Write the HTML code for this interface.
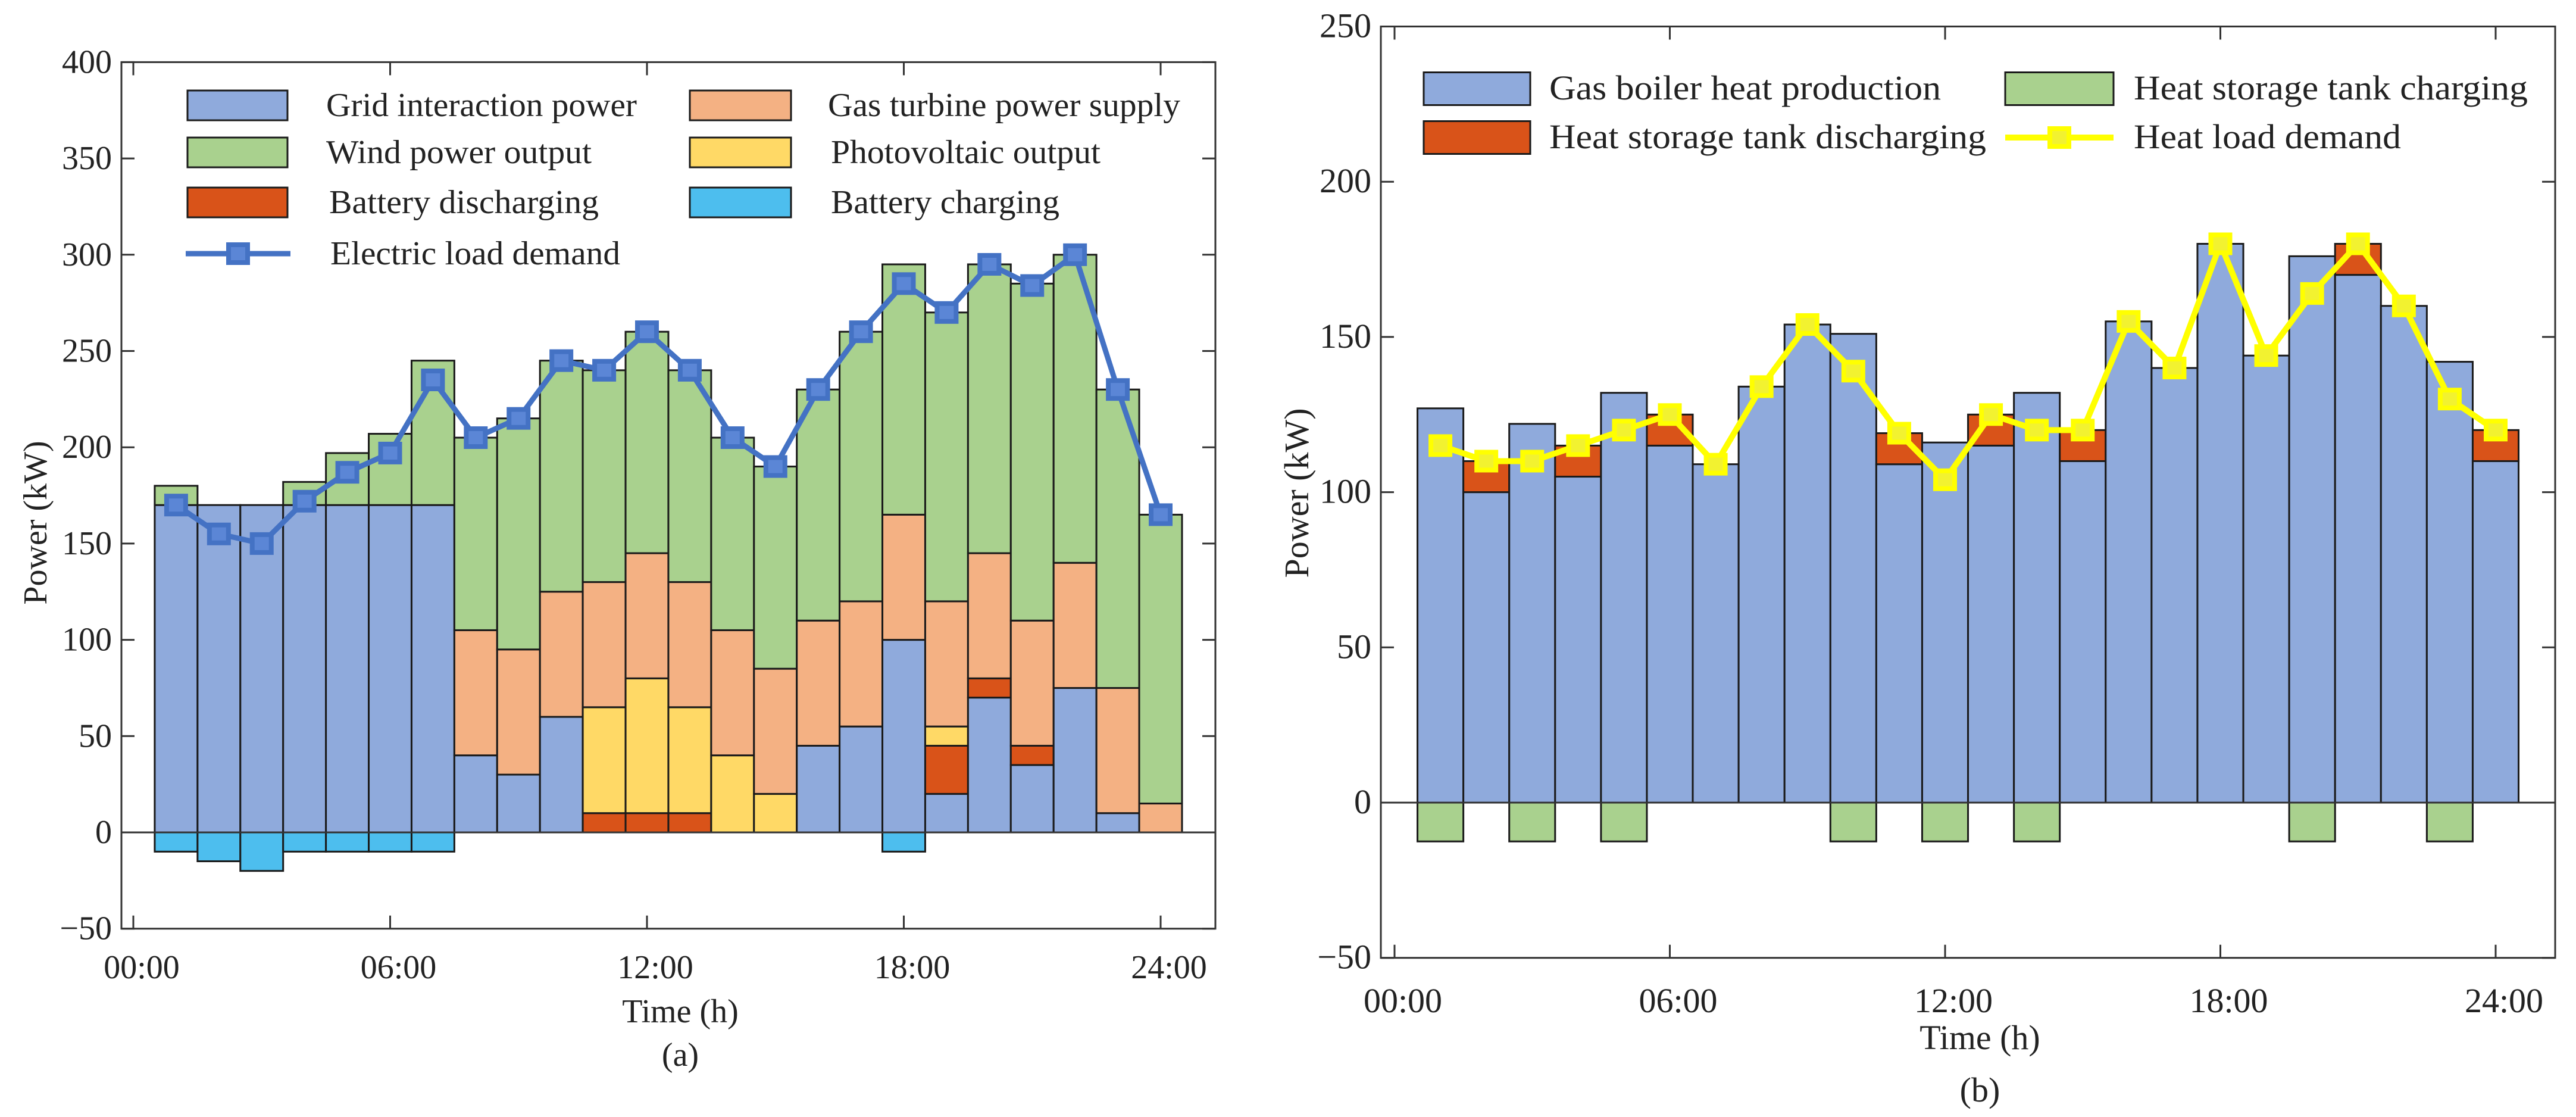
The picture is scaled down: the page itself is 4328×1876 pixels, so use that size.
<!DOCTYPE html>
<html><head><meta charset="utf-8"><style>
html,body{margin:0;padding:0;background:#fff;}
svg{display:block;}
svg text{font-family:"Liberation Serif","DejaVu Serif",serif;}
</style></head><body>
<svg id="fig" width="4328" height="1876" viewBox="0 0 4328 1876" xmlns="http://www.w3.org/2000/svg" font-family="Liberation Serif, DejaVu Serif, serif">
<rect width="4328" height="1876" fill="#fff"/>
<g id="chartA"></g>
<g id="chartB"></g>
</svg>
<script>
// ---- Chart (a) data ----
const hoursA = [1,2,3,4,5,6,7,8,9,10,11,12,13,14,15,16,17,18,19,20,21,22,23,24];
const gridPower = [170,170,170,170,170,170,170,40,30,60,0,0,0,0,0,45,55,100,20,70,35,75,10,0];
const batteryDischarge = [0,0,0,0,0,0,0,0,0,0,10,10,10,0,0,0,0,0,25,10,10,0,0,0];
const pvOutput = [0,0,0,0,0,0,0,0,0,0,55,70,55,40,20,0,0,0,10,0,0,0,0,0];
const gasTurbine = [0,0,0,0,0,0,0,65,65,65,65,65,65,65,65,65,65,65,65,65,65,65,65,15];
const windOutput = [10,0,0,12,27,37,75,100,120,120,110,115,110,100,105,120,140,130,150,150,175,160,155,150];
const batteryCharge = [-10,-15,-20,-10,-10,-10,-10,0,0,0,0,0,0,0,0,0,0,-10,0,0,0,0,0,0];
const electricLoad = [170,155,150,172,187,197,235,205,215,245,240,260,240,205,190,230,260,285,270,295,284,300,230,165];
const yTicksA = [-50,0,50,100,150,200,250,300,350,400];
const xTickHours = [0,6,12,18,24];
const xTickLabels = ["00:00","06:00","12:00","18:00","24:00"];
// ---- Chart (b) data ----
const boilerHeat = [127,100,122,105,132,115,109,134,154,151,109,116,115,132,110,155,140,180,144,176,170,160,142,110];
const tankDischarge = [0,10,0,10,0,10,0,0,0,0,10,0,10,0,10,0,0,0,0,0,10,0,0,10];
const tankCharge = [-12.5,0,-12.5,0,-12.5,0,0,0,0,-12.5,0,-12.5,0,-12.5,0,0,0,0,0,-12.5,0,0,-12.5,0];
const heatLoad = [115,110,110,115,120,125,109,134,154,139,119,104,125,120,120,155,140,180,144,164,180,160,130,120];
const yTicksB = [-50,0,50,100,150,200,250];

const NS="http://www.w3.org/2000/svg";
const FF="Liberation Serif, DejaVu Serif, serif";
function mk(parent,tag,attrs,text){const e=document.createElementNS(NS,tag);for(const k in attrs)e.setAttribute(k,attrs[k]);if(tag==='text')e.setAttribute('font-family',FF);if(text!==undefined)e.textContent=text;parent.appendChild(e);return e;}

function drawChart(g,cfg){
  const xS=h=>cfg.x0+(h/24)*(cfg.x24-cfg.x0);
  const yS=v=>cfg.yZero-(v/50)*cfg.per50;
  const bw=(cfg.x24-cfg.x0)/24;
  cfg.hours.forEach((h,i)=>{
    let base=0;
    cfg.posSeries.forEach(s=>{
      const v=s.data[i]; if(v<=0) return;
      const r=mk(g,'rect',{x:xS(h)-bw/2,y:yS(base+v),width:bw,height:yS(base)-yS(base+v),fill:s.color,stroke:'#1a1a1a','stroke-width':3});
      
      
      base+=v;
    });
    cfg.negSeries.forEach(s=>{
      const v=s.data[i]; if(v>=0) return;
      const r=mk(g,'rect',{x:xS(h)-bw/2,y:yS(0),width:bw,height:yS(v)-yS(0),fill:s.color,stroke:'#1a1a1a','stroke-width':3});
      
      
    });
  });
  const zl=mk(g,'line',{x1:cfg.bx0,x2:cfg.bx1,y1:yS(0),y2:yS(0),stroke:'#333','stroke-width':3});
  
  
  const pts=cfg.hours.map((h,i)=>xS(h)+','+yS(cfg.load[i])).join(' ');
  const pl=mk(g,'polyline',{points:pts,fill:'none',stroke:cfg.loadColor,'stroke-width':cfg.lw,'stroke-linejoin':'round'});
  
  
  cfg.hours.forEach((h,i)=>{
    const m=mk(g,'rect',{x:xS(h)-16,y:yS(cfg.load[i])-15,width:32,height:30,fill:cfg.markerFill,stroke:cfg.loadColor,'stroke-width':8});
    
    
  });
  const box=mk(g,'rect',{x:cfg.bx0,y:yS(cfg.yTicks[cfg.yTicks.length-1]),width:cfg.bx1-cfg.bx0,height:yS(cfg.yTicks[0])-yS(cfg.yTicks[cfg.yTicks.length-1]),fill:'none',stroke:'#333','stroke-width':3});
  
  
  const yTop=yS(cfg.yTicks[cfg.yTicks.length-1]), yBot=yS(cfg.yTicks[0]);
  cfg.yTicks.forEach(t=>{
    const y=yS(t);
    mk(g,'line',{x1:cfg.bx0,x2:cfg.bx0+22,y1:y,y2:y,stroke:'#333','stroke-width':3});
    mk(g,'line',{x1:cfg.bx1,x2:cfg.bx1-22,y1:y,y2:y,stroke:'#333','stroke-width':3});
    const lab=mk(g,'text',{x:cfg.bx0-16,y:y+18,'text-anchor':'end','font-size':cfg.fs,fill:'#222'},t<0?'\u221250':String(t));
    
    
  });
  xTickHours.forEach((h,i)=>{
    const x=xS(h);
    mk(g,'line',{x1:x,x2:x,y1:yBot,y2:yBot-22,stroke:'#333','stroke-width':3});
    mk(g,'line',{x1:x,x2:x,y1:yTop,y2:yTop+22,stroke:'#333','stroke-width':3});
    const lab=mk(g,'text',{x:x+14,y:cfg.xLabY+20,'text-anchor':'middle','font-size':cfg.fs,fill:'#222'},xTickLabels[i]);
    
    
  });
  const xt=mk(g,'text',{x:(cfg.bx0+cfg.bx1)/2+20,y:cfg.xTitleY+20,'text-anchor':'middle','font-size':cfg.fs,fill:'#222'},'Time (h)');
  
  
  const yt=mk(g,'text',{x:0,y:0,'text-anchor':'middle','font-size':cfg.fs,fill:'#222',transform:`translate(${cfg.yTitleX},${cfg.yTitleY}) rotate(-90)`},'Power (kW)');
  
  
  const cap=mk(g,'text',{x:(cfg.bx0+cfg.bx1)/2+20,y:cfg.capY+20,'text-anchor':'middle','font-size':cfg.fs,fill:'#222'},cfg.caption);
  
  
  cfg.legend.forEach(L=>{
    if(L.line){
      const ln=mk(g,'line',{x1:L.sx,x2:L.sx+L.sw,y1:L.cy,y2:L.cy,stroke:L.color,'stroke-width':cfg.lw});
      
      
      mk(g,'rect',{x:L.sx+L.sw/2-16,y:L.cy-15,width:32,height:30,fill:cfg.markerFill,stroke:L.color,'stroke-width':8});
    } else {
      const sw=mk(g,'rect',{x:L.sx,y:L.cy-L.sh/2,width:L.sw,height:L.sh,fill:L.color,stroke:'#1a1a1a','stroke-width':3});
      
      
    }
    const t=mk(g,'text',{x:L.tx,y:L.cy+18,'font-size':cfg.fs,fill:'#222',textLength:L.tl,lengthAdjust:'spacingAndGlyphs'},L.text);
    
    
  });
}

const C={grid:'#8FAADC',gas:'#F4B183',wind:'#A9D18E',pv:'#FFD966',dis:'#D95319',chg:'#4DBEEE'};
drawChart(document.getElementById('chartA'),{
  hours:hoursA,x0:224,x24:1950,yZero:1398,per50:161.7,bx0:204,bx1:2042,yTicks:yTicksA,fs:56,
  posSeries:[{name:'grid-interaction',data:gridPower,color:C.grid},{name:'battery-discharging',data:batteryDischarge,color:C.dis},{name:'photovoltaic',data:pvOutput,color:C.pv},{name:'gas-turbine',data:gasTurbine,color:C.gas},{name:'wind-power',data:windOutput,color:C.wind}],
  negSeries:[{name:'battery-charging',data:batteryCharge,color:C.chg}],
  load:electricLoad,loadColor:'#4472C4',markerFill:'#5B86D6',lw:9,
  xLabY:1623,xTitleY:1697,capY:1770,caption:'(a)',yTitleX:78,yTitleY:878,
  legend:[
    {sx:315,sw:168,sh:50,cy:177,color:C.grid,tx:548,text:'Grid interaction power',tl:522},
    {sx:1159,sw:170,sh:50,cy:177,color:C.gas,tx:1391,text:'Gas turbine power supply',tl:592},
    {sx:315,sw:168,sh:50,cy:256,color:C.wind,tx:548,text:'Wind power output',tl:446},
    {sx:1159,sw:170,sh:50,cy:256,color:C.pv,tx:1396,text:'Photovoltaic output',tl:453},
    {sx:315,sw:168,sh:50,cy:340,color:C.dis,tx:553,text:'Battery discharging',tl:453},
    {sx:1159,sw:170,sh:50,cy:340,color:C.chg,tx:1396,text:'Battery charging',tl:384},
    {line:true,sx:312,sw:176,cy:426,color:'#4472C4',tx:555,text:'Electric load demand',tl:487}
  ]
});
drawChart(document.getElementById('chartB'),{
  hours:hoursA,x0:2343,x24:4193,yZero:1348,per50:260.7,bx0:2320,bx1:4293,yTicks:yTicksB,fs:58,
  posSeries:[{name:'gas-boiler',data:boilerHeat,color:C.grid},{name:'tank-discharging',data:tankDischarge,color:C.dis}],
  negSeries:[{name:'tank-charging',data:tankCharge,color:C.wind}],
  load:heatLoad,loadColor:'#FFFF00',markerFill:'#F2F230',lw:10,
  xLabY:1680,xTitleY:1742,capY:1830,caption:'(b)',yTitleX:2198,yTitleY:828,
  legend:[
    {sx:2392,sw:179,sh:55,cy:149,color:C.grid,tx:2603,text:'Gas boiler heat production',tl:658},
    {sx:3369,sw:182,sh:55,cy:149,color:C.wind,tx:3585,text:'Heat storage tank charging',tl:662},
    {sx:2392,sw:179,sh:55,cy:231,color:C.dis,tx:2603,text:'Heat storage tank discharging',tl:734},
    {line:true,sx:3369,sw:182,cy:231,color:'#FFFF00',tx:3585,text:'Heat load demand',tl:449}
  ]
});
</script>
</body></html>
